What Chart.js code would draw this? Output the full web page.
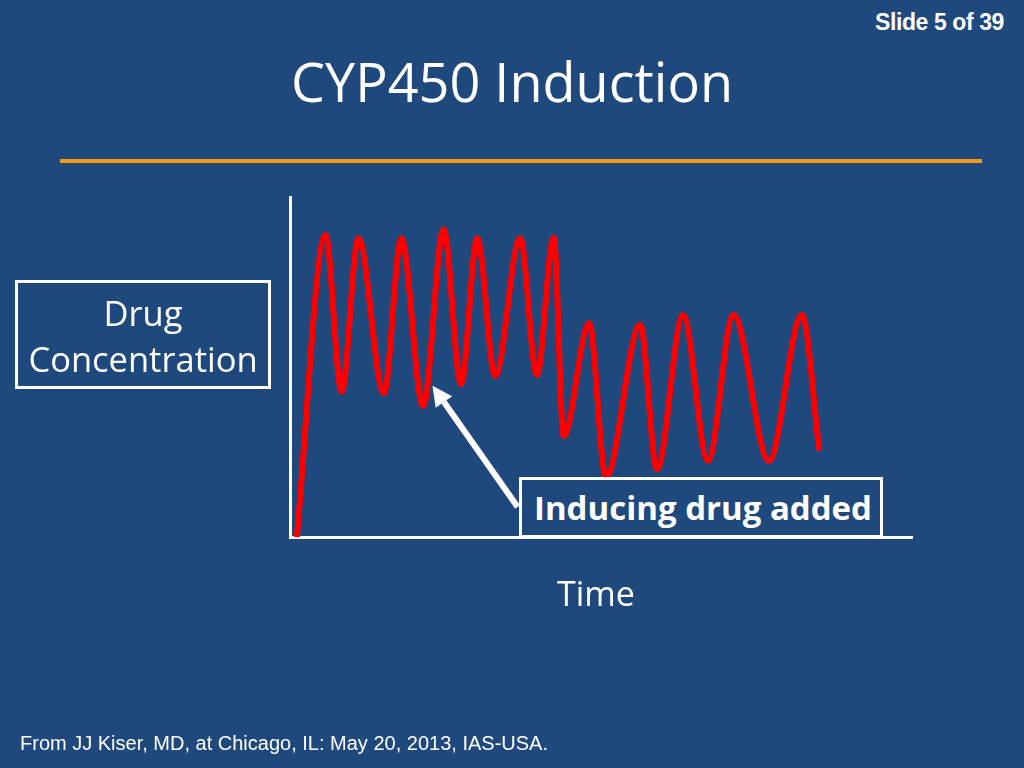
<!DOCTYPE html>
<html>
<head>
<meta charset="utf-8">
<script src="https://cdn.jsdelivr.net/npm/chart.js@4"></script>
<style>
  html, body { margin: 0; padding: 0; background: #1F497D; }
  #slide { position: relative; width: 1024px; height: 768px; background: #1F497D; overflow: hidden; color: #fff; }
  #chartBox { position: absolute; left: 0; top: 0; width: 1024px; height: 768px; }
  .txt { position: absolute; white-space: nowrap; }
  #slideNo { right: 20px; top: 9px; font: bold 23px "Liberation Sans", Arial, sans-serif; letter-spacing: -0.4px; }
  #title { left: 0; width: 1024px; top: 44px; text-align: center; font: 54px "Open Sans", sans-serif; line-height: 74px; }
  #rule { position: absolute; left: 60px; top: 159px; width: 922px; height: 4px; background: #F59B12; }
  #yBox { left: 15px; top: 280px; width: 250px; border: 3px solid #fff; text-align: center;
          font: 34.5px "Open Sans", sans-serif; line-height: 46px; padding-top: 7px; height: 96px; }
  #noteBox { left: 519px; top: 477px; height: 55px; border: 3px solid #fff; background: #1F497D;
             font: bold 33px "Open Sans", sans-serif; line-height: 55px; padding-left: 12px; width: 346px; }
  #xLabel { left: 557px; top: 568px; font: 34px "Open Sans", sans-serif; line-height: 50px; }
  #footer { left: 20px; top: 732px; font: 20px "Liberation Sans", Arial, sans-serif; }
</style>
</head>
<body>
<div id="slide">
  <div class="txt" id="slideNo">Slide 5 of 39</div>
  <div class="txt" id="title">CYP450 Induction</div>
  <div id="rule"></div>
  <div id="chartBox"><canvas id="pkChart"></canvas></div>
  <div class="txt" id="yBox">Drug<br>Concentration</div>
  <div class="txt" id="noteBox">Inducing drug added</div>
  <div class="txt" id="xLabel">Time</div>
  <div class="txt" id="footer">From JJ Kiser, MD, at Chicago, IL: May 20, 2013, IAS-USA.</div>
</div>
<script>
// time points (peaks and troughs), arbitrary units 0-100
const timePoints = [1.1, 5.7, 8.3, 11.0, 15.1, 17.9, 21.4, 24.7, 27.5, 30.1, 33.0, 37.0, 39.7, 42.4,
                    44.0, 48.1, 50.8, 56.3, 59.0, 63.2, 67.2, 71.3, 77.0, 82.3, 85.1];
// drug concentration, arbitrary units 0-100
const concentration = [0, 88.8, 42.7, 87.9, 42.3, 87.9, 38.5, 90.5, 44.9, 87.9, 47.4, 87.9, 47.6, 88.1,
                       29.7, 62.9, 17.6, 62.4, 19.9, 65.3, 22.4, 65.3, 22.4, 65.3, 25.4];

// arrow from the note box to the trough where the inducer is added
const arrowTail = { x: 36.6, y: 8.8 };
const arrowHead = { x: 22.9, y: 44.5 };

const points = timePoints.map((t, i) => ({ x: t, y: concentration[i] }));

const arrowPlugin = {
    id: "arrowPlugin",
    afterDatasetsDraw(chart) {
        const { ctx, scales: { x, y } } = chart;
        const x0 = x.getPixelForValue(arrowTail.x), y0 = y.getPixelForValue(arrowTail.y);
        const x1 = x.getPixelForValue(arrowHead.x), y1 = y.getPixelForValue(arrowHead.y);
        const ang = Math.atan2(y1 - y0, x1 - x0);
        const headLen = 20, headW = 10;
        const bx = x1 - headLen * Math.cos(ang), by = y1 - headLen * Math.sin(ang);
        ctx.save();
        ctx.strokeStyle = "#fff";
        ctx.fillStyle = "#fff";
        ctx.lineWidth = 6;
        ctx.beginPath();
        ctx.moveTo(x0, y0);
        ctx.lineTo(bx, by);
        ctx.stroke();
        ctx.beginPath();
        ctx.moveTo(x1, y1);
        ctx.lineTo(bx + headW * Math.sin(ang), by - headW * Math.cos(ang));
        ctx.lineTo(bx - headW * Math.sin(ang), by + headW * Math.cos(ang));
        ctx.closePath();
        ctx.fill();
        ctx.restore();
    }
};

new Chart(document.getElementById("pkChart"), {
    type: "line",
    data: {
        datasets: [{
            label: "Drug concentration",
            data: points,
            borderColor: "#FF0000",
            borderWidth: 6,
            pointRadius: 0,
            fill: false,
            cubicInterpolationMode: "monotone",
            clip: false,
        }],
    },
    options: {
        responsive: true,
        maintainAspectRatio: false,
        animation: false,
        devicePixelRatio: 1,
        layout: { padding: { left: 290, right: 112, top: 197, bottom: 231 } },
        plugins: { legend: { display: false }, tooltip: { enabled: false } },
        scales: {
            x: {
                type: "linear", min: 0, max: 100,
                grid: { display: false, drawTicks: false },
                ticks: { display: false },
                border: { display: true, color: "#fff", width: 3 },
            },
            y: {
                min: 0, max: 100,
                grid: { display: false, drawTicks: false },
                ticks: { display: false },
                border: { display: true, color: "#fff", width: 3 },
            },
        },
    },
    plugins: [arrowPlugin],
});
</script>
</body>
</html>
